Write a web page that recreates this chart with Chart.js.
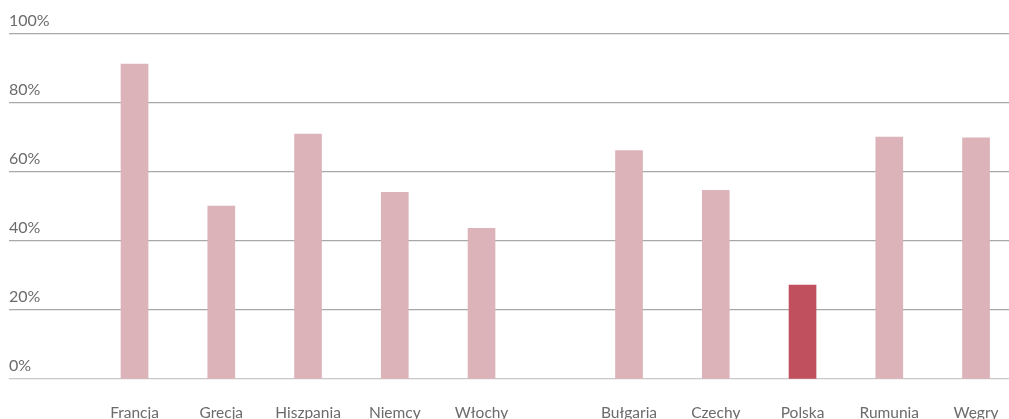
<!DOCTYPE html>
<html>
<head>
<meta charset="utf-8">
<script src="https://cdn.jsdelivr.net/npm/chart.js@4"></script>
<style>
  html, body { margin: 0; padding: 0; background: #fff; }
  #wrap { width: 1009px; height: 419px; }
</style>
</head>
<body>
<div id="wrap"><canvas id="chart"></canvas></div>
<script>
// two groups of countries, values in %
const groupA = ['Francja', 'Grecja', 'Hiszpania', 'Niemcy', 'Włochy'];
const groupB = ['Bułgaria', 'Czechy', 'Polska', 'Rumunia', 'Węgry'];
const valuesA = [91.3, 50.1, 71.0, 54.1, 43.7];
const valuesB = [66.2, 54.7, 27.2, 70.1, 69.9];
const highlight = 'Polska';
const yTicks = [0, 20, 40, 60, 80, 100];

const groupGap = 1.7; // distance between the groups, in bar slots

const labels = groupA.concat(groupB);
const values = valuesA.concat(valuesB);
const xPos = labels.map((l, i) => i < groupA.length ? i : i - 1 + groupGap);

const light = '#dcb3b8';
const dark = '#c0505e';

new Chart(document.getElementById('chart'), {
    type: 'bar',
    data: {
        datasets: [{
            data: xPos.map((x, i) => ({ x: x, y: values[i] })),
            backgroundColor: labels.map(l => l === highlight ? dark : light),
            barThickness: 27
        }]
    },
    options: {
        responsive: true,
        maintainAspectRatio: false,
        animation: false,
        layout: { padding: { left: 9, top: 34, right: 0, bottom: 0 } },
        plugins: { legend: { display: false }, tooltip: { enabled: false } },
        scales: {
            x: {
                type: 'linear',
                offset: false,
                min: -1.447,
                max: 10.08,
                grid: { display: false },
                border: { display: false },
                afterBuildTicks: scale => { scale.ticks = xPos.map(v => ({ value: v })); },
                afterFit: scale => {
                    scale.height = 40;
                    scale.paddingLeft = 0;
                    scale.paddingRight = 0;
                },
                ticks: {
                    autoSkip: false,
                    maxRotation: 0,
                    padding: 17,
                    color: '#6b6b6b',
                    font: { family: 'Lato', size: 15.5 },
                    callback: (v) => labels[xPos.indexOf(v)]
                }
            },
            y: {
                min: 0,
                max: 100,
                afterBuildTicks: scale => { scale.ticks = yTicks.map(v => ({ value: v })); },
                afterFit: scale => { scale.width = 0; },
                border: { display: false },
                grid: {
                    drawTicks: false,
                    lineWidth: 1.2,
                    color: ctx => ctx.tick.value === 0 ? '#c8c8c8' : '#a8a8a8'
                },
                ticks: {
                    mirror: true,
                    padding: 0,
                    labelOffset: -13,
                    color: '#6b6b6b',
                    font: { family: 'Lato', size: 16 },
                    callback: v => v + '%'
                }
            }
        }
    }
});
</script>
</body>
</html>
